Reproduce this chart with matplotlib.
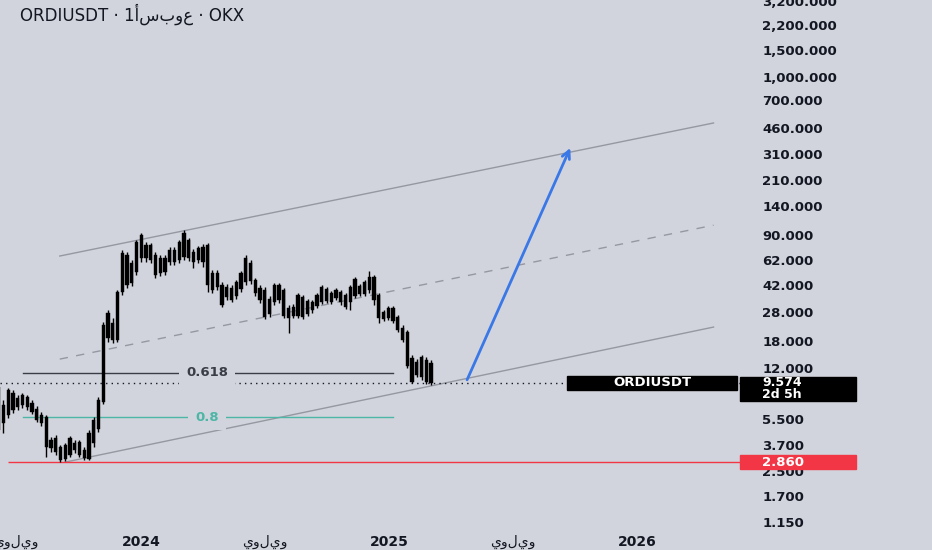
import numpy as np
import pandas as pd
import matplotlib
matplotlib.use('Agg')
import matplotlib.pyplot as plt
import matplotlib.dates as mdates
import matplotlib.transforms as mtrans
from matplotlib.patches import Rectangle
from matplotlib.ticker import FixedLocator, FuncFormatter, NullLocator

plt.rcParams['font.family'] = ['DejaVu Sans']

# weekly candles ORDIUSDT (OKX)
weeks = pd.date_range('2023-06-05', '2025-03-03', freq='7D')
opens = [8.96, 5.19, 5.86, 8.18, 6.61, 7.94, 7.70, 7.03, 6.42, 5.86,
         5.68, 4.00, 4.13, 2.95, 3.00, 4.13, 3.83, 3.88, 3.04, 3.00,
         3.83, 4.73, 7.14, 18.9, 23.7, 18.3, 38.0, 66.7, 43.6, 51.5,
         90.4, 77.7, 77.7, 66.7, 50.7, 51.5, 60.0, 60.0, 61.8, 93.2,
         83.8, 60.0, 74.2, 75.4, 77.7, 39.2, 50.7, 31.2, 41.0, 33.7,
         35.8, 39.8, 63.8, 59.1, 45.6, 40.4, 39.2, 27.2, 32.7, 42.3,
         39.2, 25.6, 26.4, 36.3, 35.2, 27.2, 28.9, 30.7, 41.0, 39.8,
         32.7, 39.2, 38.0, 30.3, 32.7, 46.3, 36.9, 36.9, 47.7, 47.7,
         36.3, 25.2, 29.8, 29.8, 26.0, 22.0, 20.7, 9.67, 10.7, 14.1,
         13.5, 12.9]
highs = [9.52, 7.36, 8.83, 8.56, 7.94, 8.18, 7.94, 7.36, 6.72, 6.13,
         5.86, 4.19, 4.32, 3.71, 3.83, 4.26, 4.00, 4.00, 3.60, 4.66,
         5.68, 7.70, 24.1, 28.9, 25.6, 39.2, 72.0, 69.8, 61.8, 83.8,
         93.2, 81.3, 80.1, 69.8, 66.7, 66.7, 75.4, 75.4, 83.8, 97.6,
         86.4, 73.1, 76.5, 78.9, 80.1, 53.1, 53.1, 44.2, 42.9, 42.3,
         45.6, 52.3, 66.7, 61.8, 47.0, 42.3, 41.0, 35.8, 43.6, 43.6,
         40.4, 31.2, 31.7, 37.4, 36.3, 34.2, 33.7, 37.4, 42.3, 41.0,
         38.6, 40.4, 39.2, 37.4, 42.3, 47.7, 42.9, 45.6, 52.3, 49.2,
         37.4, 28.9, 30.7, 30.7, 26.8, 23.0, 21.3, 14.6, 13.7, 14.6,
         14.1, 13.5]
lows = [4.32, 4.45, 5.60, 6.04, 6.32, 6.51, 6.32, 5.95, 5.27, 4.96,
        3.09, 3.33, 3.18, 2.86, 2.91, 3.09, 3.28, 3.09, 2.95, 2.95,
        3.60, 4.52, 6.92, 17.8, 17.5, 17.8, 36.3, 40.4, 41.6, 49.2,
        60.0, 60.0, 59.1, 47.0, 48.5, 49.2, 57.3, 57.3, 59.1, 61.8,
        60.9, 54.8, 59.1, 55.6, 38.0, 37.4, 39.2, 30.3, 33.7, 32.7,
        34.2, 38.0, 42.3, 42.9, 35.8, 32.2, 25.2, 26.0, 31.2, 32.2,
        25.6, 20.4, 25.6, 25.6, 25.2, 26.4, 27.6, 29.8, 31.7, 32.2,
        31.7, 33.7, 31.2, 29.4, 28.9, 34.7, 35.8, 35.8, 37.4, 31.2,
        23.7, 24.4, 24.8, 23.7, 20.7, 17.8, 11.9, 9.52, 10.4, 9.97,
        9.38, 9.24]
closes = [4.66, 6.82, 8.56, 6.32, 7.58, 6.82, 6.61, 6.13, 5.43, 5.19,
          3.60, 3.54, 3.33, 3.60, 3.71, 3.18, 3.44, 3.18, 3.44, 4.45,
          5.43, 7.36, 23.0, 27.6, 18.3, 38.0, 68.8, 42.3, 59.1, 81.3,
          63.8, 63.8, 61.8, 49.2, 63.8, 63.8, 72.0, 72.0, 81.3, 64.8,
          63.8, 69.8, 61.8, 60.0, 42.3, 50.7, 41.0, 42.3, 35.2, 40.4,
          44.2, 50.7, 44.2, 44.9, 37.4, 33.7, 26.0, 34.2, 42.3, 33.7,
          26.4, 29.8, 30.3, 26.4, 26.0, 33.2, 32.7, 36.3, 32.7, 33.2,
          37.4, 34.7, 32.7, 36.3, 41.0, 35.8, 41.6, 44.2, 39.2, 33.7,
          25.6, 28.0, 25.6, 24.4, 21.3, 18.3, 12.3, 13.9, 13.1, 10.4,
          9.67, 9.574]

last_price = 9.574
countdown = '2d 5h'
low_price = 2.860

# drawings
chan_dates = ['2023-09-03', '2026-04-23']
chan_upper = [65.7, 497.0]
chan_mid = [13.7, 105.0]
chan_lower_dates = ['2023-09-11', '2026-04-23']
chan_lower = [2.86, 22.3]
fib_dates = ['2023-07-11', '2025-01-06']
fib_label_date = '2024-04-07'
fib_levels = [11.1, 5.68]
fib_names = ['0.618', '0.8']
arrow_dates = ['2025-04-25', '2025-09-24']
arrow_prices = [10.0, 340.0]
red_start = '2023-06-19'

yticks = [3200, 2200, 1500, 1000, 700, 460, 310, 210, 140, 90, 62, 42,
          28, 18, 12, 5.5, 3.7, 2.5, 1.7, 1.15]
xtick_dates = ['2023-07-01', '2024-01-01', '2024-07-01', '2025-01-01',
               '2025-07-01', '2026-01-01']
xtick_labels = ['يوليو', '2024', 'يوليو', '2025', 'يوليو', '2026']

bg = '#d1d4dc'
ink = '#131722'
teal = '#4db6a6'
red = '#f23645'


def dn(s):
    return mdates.date2num(pd.Timestamp(s))


fig = plt.figure(figsize=(9.32, 5.5), dpi=100)
fig.patch.set_facecolor(bg)
ax = fig.add_axes([0, 22 / 550, 740 / 932, 528 / 550])
ax.set_facecolor(bg)
ax.set_yscale('log')
ax.set_ylim(1.05, 3226)
xmin, xmax = dn('2023-06-07'), dn('2026-06-01')
ax.set_xlim(xmin, xmax)

x = mdates.date2num(weeks.to_pydatetime())
o = np.array(opens)
c = np.array(closes)
ax.vlines(x, lows, highs, color='black', lw=1.0, zorder=3)
ax.bar(x, np.abs(c - o), bottom=np.minimum(o, c), width=4.8,
       color='black', edgecolor='black', lw=0.3, zorder=3)

# channel
cx = [dn(d) for d in chan_dates]
ax.plot(cx, chan_upper, color='#9598a1', lw=1, zorder=2)
ax.plot(cx, chan_mid, color='#9598a1', lw=1, ls=(0, (6, 6)), zorder=2)
ax.plot([dn(d) for d in chan_lower_dates], chan_lower, color='#9598a1', lw=1, zorder=2)

# fib levels
fx = [dn(d) for d in fib_dates]
for lvl, name, col in zip(fib_levels, fib_names, ['#3a3d45', teal]):
    ax.plot(fx, [lvl, lvl], color=col, lw=1, zorder=2)
    ax.text(dn(fib_label_date), lvl, name, color=col, fontsize=9.5,
            fontweight='bold', ha='center', va='center', zorder=4,
            bbox=dict(facecolor=bg, edgecolor='none', pad=5))

# current price dotted line and low line
ax.axhline(last_price, color=ink, lw=1, ls=(0, (1, 3)), zorder=2)
ax.hlines(low_price, dn(red_start), xmax, color=red, lw=1, zorder=2)

# blue projection arrow
ax.annotate('', xy=(dn(arrow_dates[1]), arrow_prices[1]),
            xytext=(dn(arrow_dates[0]), arrow_prices[0]),
            arrowprops=dict(arrowstyle='->', color='#3b78e7', lw=2,
                            mutation_scale=14, shrinkA=0, shrinkB=0),
            zorder=4)

# price scale
ax.yaxis.tick_right()
ax.yaxis.set_major_locator(FixedLocator(yticks))
ax.yaxis.set_minor_locator(NullLocator())
ax.yaxis.set_major_formatter(FuncFormatter(lambda v, p: f'{v:,.3f}'))
ax.tick_params(axis='y', length=0, pad=16, labelsize=9.5, labelcolor=ink)
for t in ax.get_yticklabels():
    t.set_fontweight('bold')

ax.set_xticks([dn(d) for d in xtick_dates])
ax.set_xticklabels(xtick_labels)
ax.xaxis.set_minor_locator(NullLocator())
ax.tick_params(axis='x', length=0, pad=5, labelsize=10, labelcolor=ink)
for t in ax.get_xticklabels():
    if t.get_text().isdigit():
        t.set_fontweight('bold')

for s in ax.spines.values():
    s.set_visible(False)

# label boxes on the price scale
bt = mtrans.blended_transform_factory(ax.transAxes, ax.transData)
px = 10 ** (1 / 151.4)
ax.add_patch(Rectangle((567 / 740, last_price / px ** 7), 170 / 740,
                       last_price * px ** 7 - last_price / px ** 7,
                       transform=bt, color='black', clip_on=False, zorder=6))
ax.text(652 / 740, last_price, 'ORDIUSDT', transform=bt, color='white',
        fontsize=9.5, fontweight='bold', ha='center', va='center', zorder=7)
ax.add_patch(Rectangle((1.0, last_price / px ** 18), 116 / 740,
                       last_price * px ** 6 - last_price / px ** 18,
                       transform=bt, color='black', clip_on=False, zorder=6))
ax.text(762 / 740, last_price / px ** 6, f'{last_price:.3f}\n{countdown}',
        transform=bt, color='white', fontsize=9, fontweight='bold',
        linespacing=0.95, ha='left', va='center', zorder=7, clip_on=False)
ax.add_patch(Rectangle((1.0, low_price / px ** 7), 116 / 740,
                       low_price * px ** 7 - low_price / px ** 7,
                       transform=bt, color=red, clip_on=False, zorder=6))
ax.text(762 / 740, low_price, f'{low_price:.3f}', transform=bt, color='white',
        fontsize=9.5, fontweight='bold', ha='left', va='center', zorder=7,
        clip_on=False)

fig.text(20 / 932, 1 - 14 / 550, 'ORDIUSDT · 1أسبوع · OKX', color=ink,
         fontsize=12, ha='left', va='center')

fig.savefig('out.png', dpi=100, facecolor=bg)
